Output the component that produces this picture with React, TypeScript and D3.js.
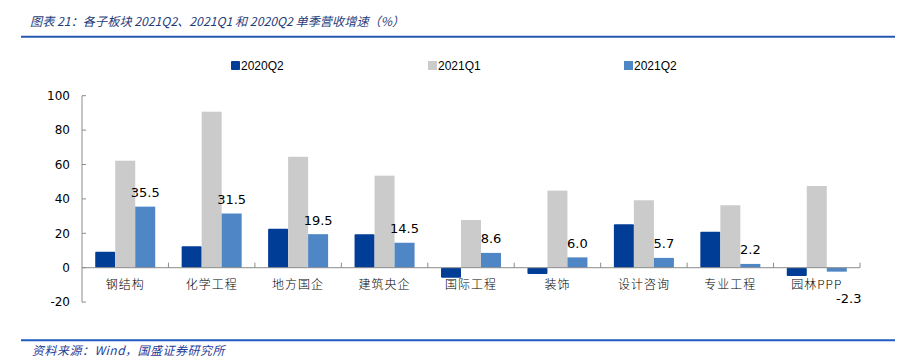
import React from "react";
import * as d3 from "d3";

const categories = ["钢结构", "化学工程", "地方国企", "建筑央企", "国际工程", "装饰", "设计咨询", "专业工程", "园林PPP"];
const seriesNames = ["2020Q2", "2021Q1", "2021Q2"];
const q2020 = [9.3, 12.4, 22.7, 19.4, -5.8, -3.7, 25.2, 20.9, -4.8];
const q2021Q1 = [62.2, 90.7, 64.5, 53.5, 27.7, 44.8, 39.2, 36.3, 47.5];
const q2021Q2 = [35.5, 31.5, 19.5, 14.5, 8.6, 6.0, 5.7, 2.2, -2.3];
const yTicks = [-20, 0, 20, 40, 60, 80, 100];
const colors = ["#003D96", "#CBCBCB", "#4F86C6"];

const W = 899;
const H = 362;
const plot = { left: 82, right: 860, top: 95.7, bottom: 302.1 };

export default function App() {
  const x = d3.scaleBand<string>().domain(categories).range([plot.left, plot.right]).paddingInner(0).paddingOuter(0);
  const y = d3.scaleLinear().domain([-20, 100]).range([plot.bottom, plot.top]);
  const inner = d3.scaleBand<string>().domain(seriesNames).range([0, 60]).padding(0);
  const data = [q2020, q2021Q1, q2021Q2];
  const groupOffset = (x.bandwidth() - 60) / 2;
  const y0 = y(0);
  const numFont = "'DejaVu Sans', Verdana, sans-serif";
  const cjkFont = "'Noto Sans CJK SC', sans-serif";

  return (
    <svg width={W} height={H} style={{ position: "absolute", left: 0, top: 0, background: "#fff" }}>
      <rect width={W} height={H} fill="#fff" />
      {/* title */}
      <text x={30} y={26} fontSize={12.2} fontStyle="italic" fill="#1F3D7A" fontFamily={cjkFont}>
        图表 21：各子板块 2021Q2、2021Q1 和 2020Q2 单季营收增速（%）
      </text>
      <line x1={21} x2={895} y1={36.7} y2={36.7} stroke="#2458B0" strokeWidth={2} />
      {/* legend */}
      {seriesNames.map((s, i) => {
        const lx = [231, 428, 624][i];
        return (
          <g key={s}>
            <rect x={lx} y={61} width={9} height={9} fill={colors[i]} rx={i === 0 ? 1 : 0} />
            <text x={lx + 10} y={69.5} fontSize={12} fontFamily="'Liberation Sans', Arial, sans-serif" fill="#000">
              {s}
            </text>
          </g>
        );
      })}
      {/* y axis */}
      <line x1={plot.left} x2={plot.left} y1={plot.top} y2={plot.bottom} stroke="#8C8C8C" />
      {yTicks.map((t) => (
        <g key={t}>
          <line x1={plot.left} x2={plot.left + 4} y1={y(t)} y2={y(t)} stroke="#8C8C8C" />
          <text x={plot.left - 12} y={y(t)} dy="0.35em" textAnchor="end" fontSize={12} fontFamily={numFont} fill="#000">
            {t}
          </text>
        </g>
      ))}
      {/* bars */}
      {categories.map((c, ci) => (
        <g key={c}>
          {data.map((vals, si) => {
            const v = vals[ci];
            const bx = (x(c) as number) + groupOffset + (inner(seriesNames[si]) as number);
            const top = Math.min(y(v), y0);
            const h = Math.abs(y(v) - y0);
            return <rect key={si} x={bx} y={top} width={inner.bandwidth()} height={h} fill={colors[si]} rx={si === 0 ? 1 : 0} />;
          })}
        </g>
      ))}
      {/* x axis */}
      <line x1={plot.left} x2={plot.right} y1={y0} y2={y0} stroke="#8C8C8C" />
      {categories.map((c) => (
        <line key={c} x1={(x(c) as number) + x.bandwidth()} x2={(x(c) as number) + x.bandwidth()} y1={y0} y2={y0 - 5} stroke="#8C8C8C" />
      ))}
      {categories.map((c) => (
        <text key={c} x={(x(c) as number) + x.bandwidth() / 2} y={285} dy="0.35em" textAnchor="middle" fontSize={12} fontFamily={cjkFont} fontWeight={300} fill="#000" letterSpacing={1}>
          {c}
        </text>
      ))}
      {/* data labels */}
      {categories.map((c, ci) => {
        const v = q2021Q2[ci];
        const bx = (x(c) as number) + groupOffset + (inner(seriesNames[2]) as number) + inner.bandwidth() / 2;
        const neg = v < 0;
        return (
          <text key={c} x={neg ? bx + 12 : bx} y={neg ? 298 : y(v) - 14} dy="0.35em" textAnchor="middle" fontSize={13} fontFamily={numFont} fill="#000">
            {v.toFixed(1)}
          </text>
        );
      })}
      {/* footer */}
      <line x1={21} x2={895} y1={340.3} y2={340.3} stroke="#1F5BC0" strokeWidth={2} />
      <text x={32} y={355} fontSize={12} fontStyle="italic" fill="#1F3D9A" fontFamily={cjkFont} letterSpacing={0.5}>
        资料来源：Wind，国盛证券研究所
      </text>
    </svg>
  );
}
